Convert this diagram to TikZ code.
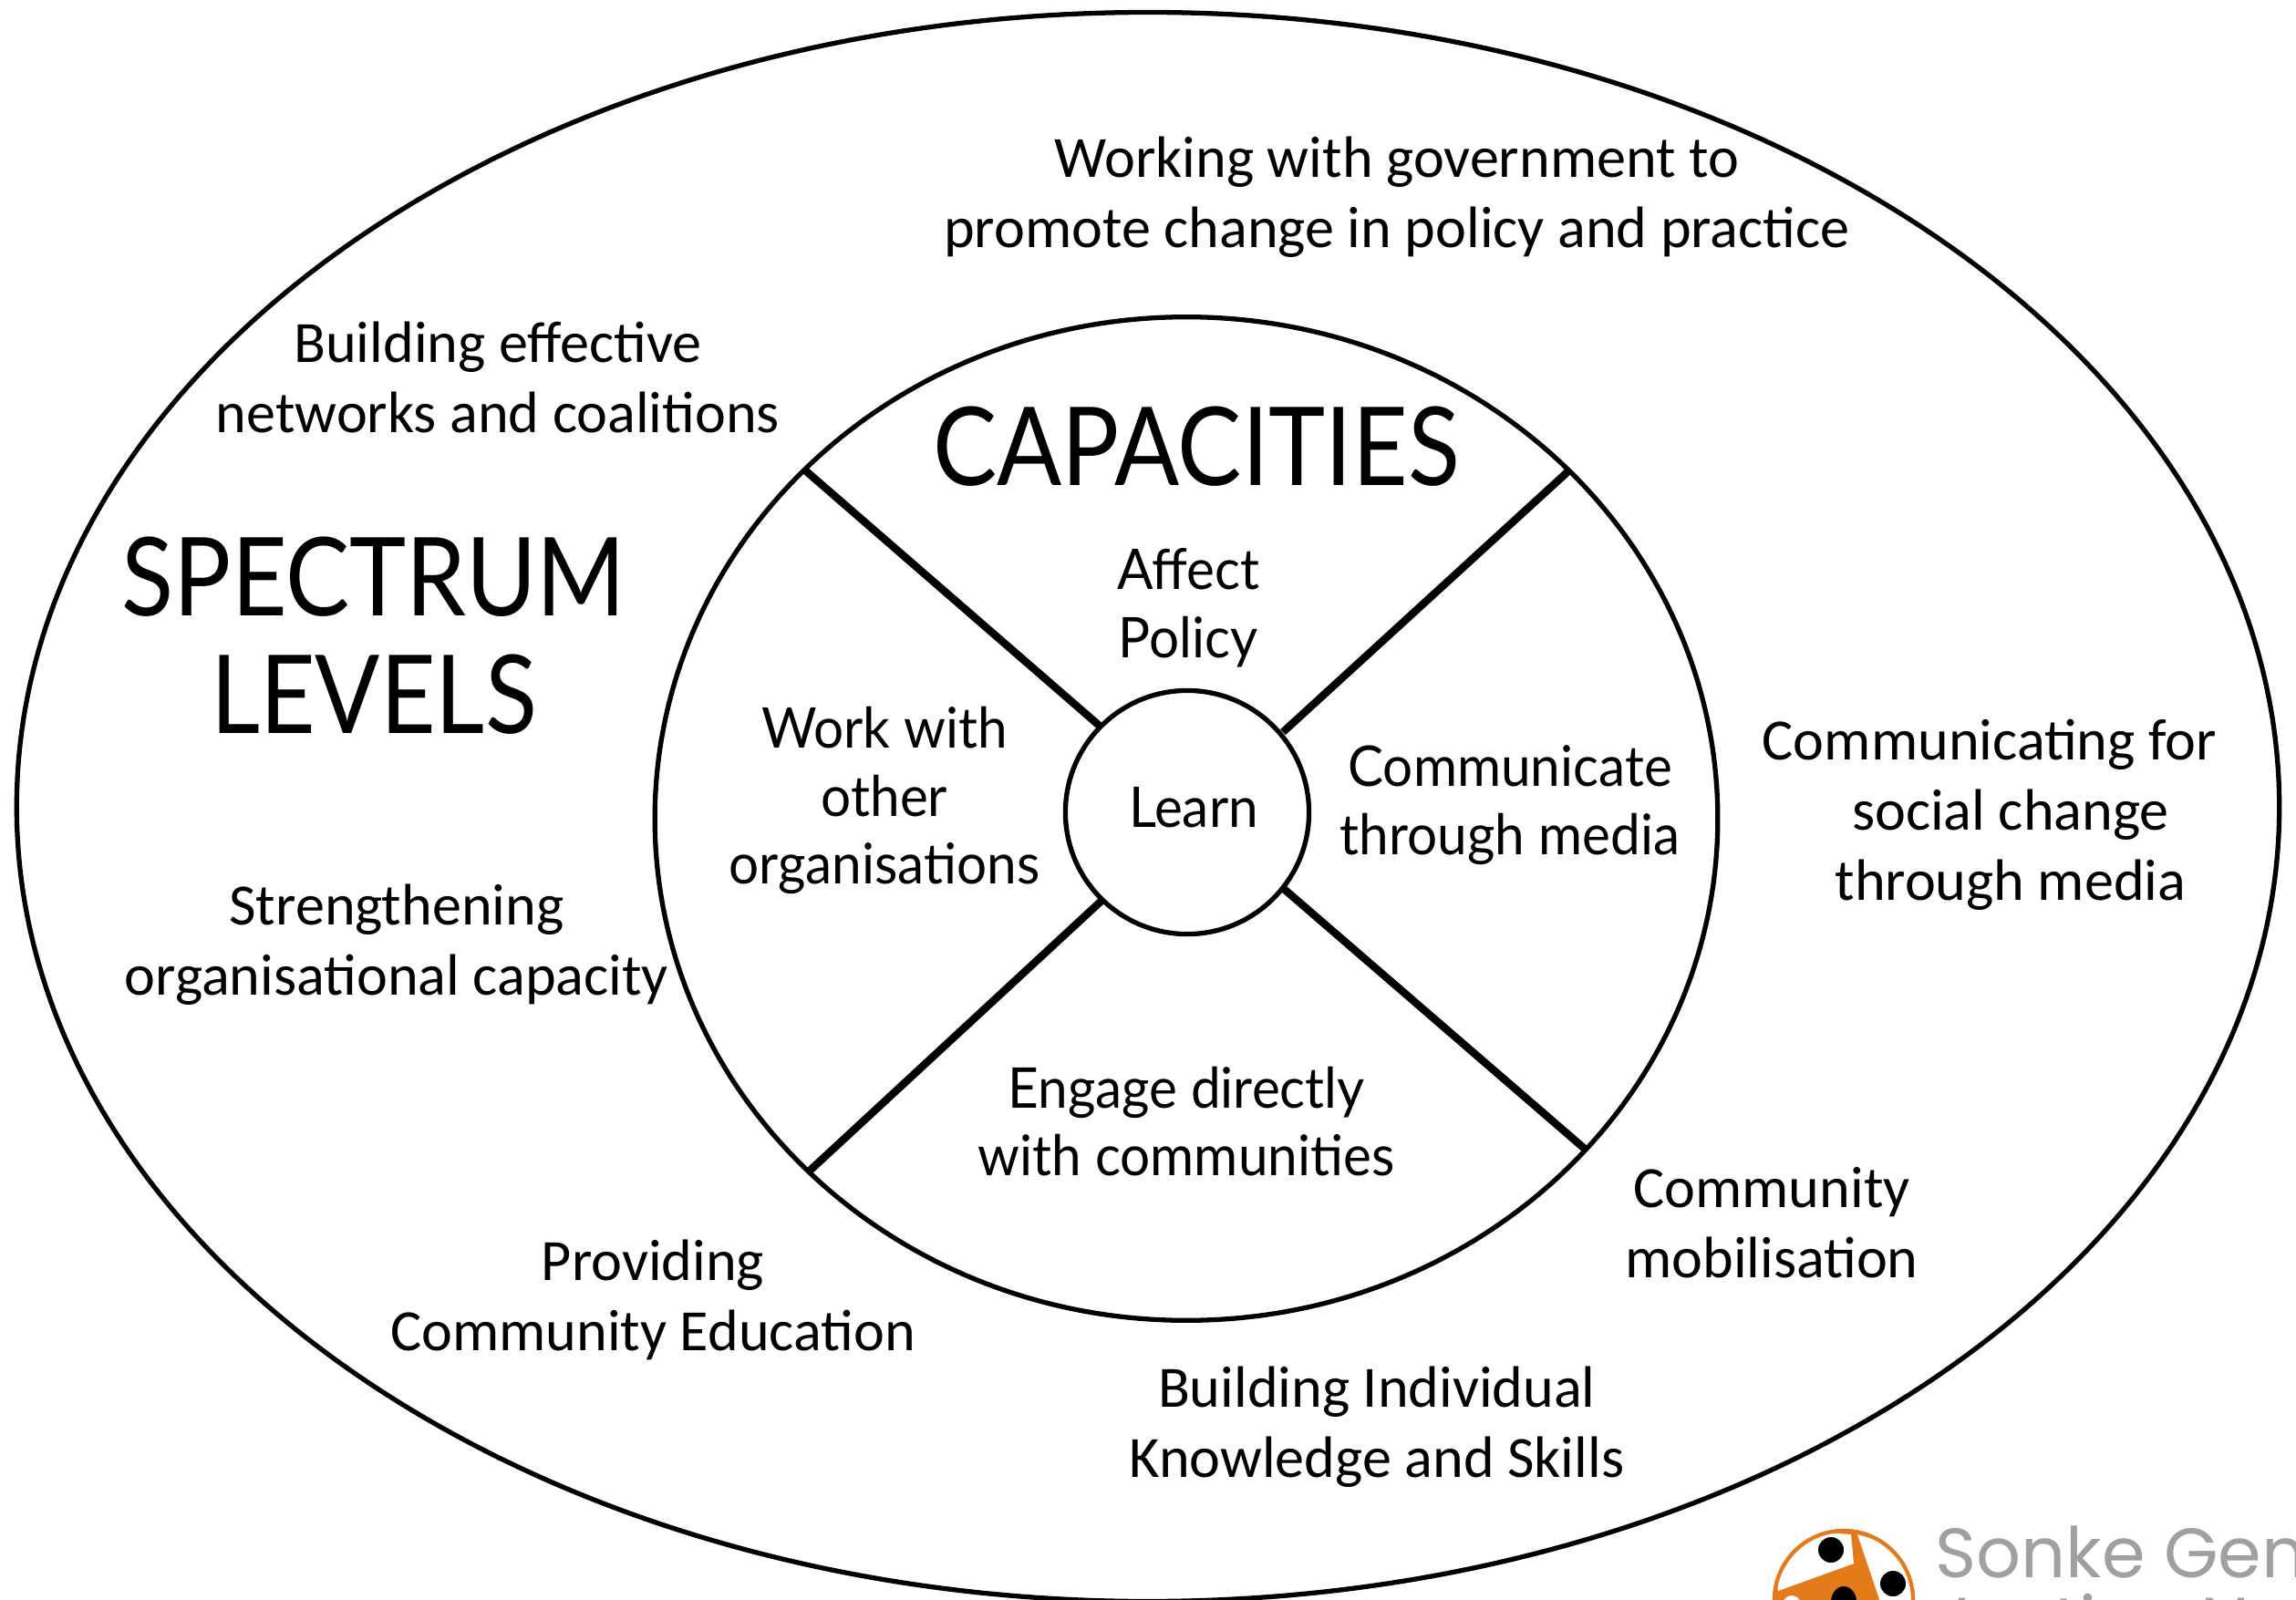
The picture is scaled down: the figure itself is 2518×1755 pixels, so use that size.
\documentclass[tikz,border=0pt]{standalone}
\usepackage{fontspec}
\setmainfont{Carlito}
\newfontfamily\gill[FakeStretch=0.95]{Lato}
\newfontfamily\gillbig[FakeStretch=0.88]{Lato}
\newfontfamily\logofont{Poppins}
\usetikzlibrary{shapes.geometric}
\definecolor{logoorange}{HTML}{E47A1A}
\definecolor{logogray}{HTML}{A0A0A0}
\tikzset{
  x=0.01cm,y=-0.01cm,
  ring/.style={draw=black,line width=1.5pt,fill=none,ellipse,inner sep=0pt,outer sep=0pt},
  spoke/.style={draw=black,line width=2.4pt},
  outerlabel/.style={align=center,inner sep=0pt,font=\fontsize{18.25}{21.9}\selectfont},
  innerlabel/.style={align=center,inner sep=0pt,font=\gill\fontsize{17.5}{21.2}\selectfont},
  biglabel/.style={align=center,inner sep=0pt,font=\gillbig\fontsize{34}{36.5}\selectfont},
  logotext/.style={anchor=base west,inner sep=0pt,text=logogray,font=\logofont\fontsize{21.8}{24}\selectfont},
}
\begin{document}
\begin{tikzpicture}
\useasboundingbox (0,0) rectangle (2518,1755);
\begin{scope}
\clip (0,0) rectangle (2518,1755);
\node[ring,minimum width=24.8cm,minimum height=17.42cm] (outer) at (1259,885) {};
\node[ring,minimum width=11.65cm,minimum height=11cm] (inner) at (1301,898) {};
\node[ring,minimum width=2.67cm,minimum height=2.67cm] (hub) at (1302,891) {};
\coordinate (tl) at (882,515); \coordinate (tlh) at (1208,798);
\coordinate (tr) at (1722,515); \coordinate (trh) at (1407,803);
\coordinate (bl) at (887,1285); \coordinate (blh) at (1208,988);
\coordinate (br) at (1739,1261); \coordinate (brh) at (1408,975);
\draw[spoke] (tl) -- (tlh);
\draw[spoke] (tr) -- (trh);
\draw[spoke] (bl) -- (blh);
\draw[spoke] (br) -- (brh);
% logo
\begin{scope}
\clip (2022,1755) circle (78);
\fill[logoorange] (2022,1755) circle (78);
\fill[white] (1950,1745) -- (2033,1715) -- (2030,1683) -- (1985,1680) -- (1945,1715) -- cycle;
\fill[white] (2037,1683) -- (2063,1760) -- (2101,1760) -- (2095,1700) -- cycle;
\end{scope}
\draw[logoorange,line width=1.2pt] (2022,1755) circle (76);
\fill[black] (2008,1700) ellipse (14 and 14);
\fill[black] (2076,1737) ellipse (14 and 14);
\fill[black] (2022,1757) ellipse (14 and 17);
\fill[white] (1965,1760) circle (10);
\node[logotext] (logoa) at (2122,1730) {Sonke Gender};
\node[logotext] (logob) at (2122,1806) {Justice Network};
\end{scope}
\node[outerlabel] (t1) at (1532,216) {Working with government to\\promote change in policy and practice};
\node[outerlabel] (t2) at (546,414) {Building effective\\networks and coalitions};
\node[outerlabel] (t3) at (435,1036) {Strengthening\\organisational capacity};
\node[outerlabel] (t4) at (2205,894) {Communicating for\hspace*{13.2pt}\\social change\\through media};
\node[outerlabel] (t5) at (1943,1341) {Community\\mobilisation};
\node[outerlabel] (t6) at (716,1426) {Providing\\Community Education};
\node[outerlabel] (t7) at (1510,1565) {Building Individual\\Knowledge and Skills};
\node[biglabel] (spec) at (410,697) {SPECTRUM\\LEVELS};
\node[biglabel] (cap) at (1312,490) {CAPACITIES};
\node[innerlabel] (c1) at (1303,667) {Affect\\Policy};
\node[innerlabel] (c2) at (970,878) {Work with\\other\\organisations};
\node[innerlabel] (c3) at (1656,883) {Communicate\\through media};
\node[innerlabel] (c4) at (1309,886) {Learn};
\node[innerlabel] (c5) at (1301,1230) {Engage directly\\with communities};
\end{tikzpicture}
\end{document}
